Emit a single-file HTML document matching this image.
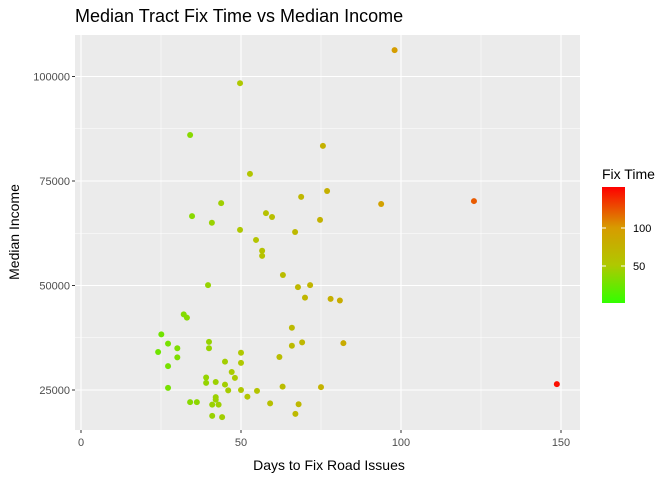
<!DOCTYPE html>
<html><head><meta charset="utf-8"><style>
body{margin:0;background:#fff;font-family:"Liberation Sans",sans-serif}
svg text{font-family:"Liberation Sans",sans-serif}
</style></head><body>
<svg id="chart" width="672" height="480">
<defs><linearGradient id="lg" x1="0" y1="1" x2="0" y2="0">
<stop offset="0" stop-color="rgb(50,255,0)"/><stop offset="0.33" stop-color="rgb(176,200,0)"/><stop offset="0.65" stop-color="rgb(215,155,0)"/><stop offset="1" stop-color="rgb(255,0,0)"/></linearGradient></defs>
<text x="75" y="22" font-size="18" fill="#000">Median Tract Fix Time vs Median Income</text>
<rect x="75" y="35" width="505" height="395" fill="#ebebeb"/>
<g id="grid"></g><g id="pts"></g><g id="axes"></g>
<text x="329" y="470" font-size="14" text-anchor="middle">Days to Fix Road Issues</text>
<text transform="translate(19,232) rotate(-90)" font-size="14" text-anchor="middle">Median Income</text>
<text x="602" y="179" font-size="14">Fix Time</text>
<rect x="602" y="187" width="23" height="116" fill="url(#lg)"/>
<g id="leg"></g>
</svg>
<script>
const xs=[32.1,33.1,25.1,27.2,24.1,30.1,30.1,27.2,27.2,40.0,40.0,50.0,50.0,45.0,47.1,48.1,39.1,39.1,42.1,45.0,46.0,50.0,55.0,52.0,34.1,36.2,42.1,42.1,41.0,43.0,41.0,44.1,59.1,62.0,65.9,65.9,69.1,70.0,78.0,80.9,82.0,63.0,75.0,68.0,67.0,49.7,98.0,34.1,52.8,75.6,76.9,68.8,43.8,93.8,122.8,34.7,40.9,57.8,59.7,74.7,66.9,49.7,54.7,56.6,56.6,63.1,71.6,67.8,39.7,148.7];
const incomes=[43.1,42.3,38.3,36.1,34.1,35.0,32.8,30.7,25.5,36.5,35.0,33.9,31.5,31.8,29.3,27.9,28.0,26.7,26.9,26.3,24.9,25.0,24.8,23.4,22.1,22.1,23.3,22.7,21.5,21.5,18.8,18.5,21.8,32.9,39.9,35.6,36.4,47.1,46.8,46.4,36.2,25.8,25.7,21.6,19.3,98.4,106.3,86.0,76.7,83.4,72.6,71.2,69.7,69.5,70.2,66.6,65.0,67.3,66.4,65.7,62.8,63.3,60.9,58.3,57.1,52.5,50.1,49.6,50.1,26.4];
const xTicks=[0,50,100,150];
const yTicks=[25000,50000,75000,100000];
const legTicks=[50,100];
const NS='http://www.w3.org/2000/svg';
const X=v=>81+v*3.2, Y=v=>390-(v-25000)*4.18/1000, L=v=>303-(v-1.3)*0.76;
function col(t){const s=[[0,[50,255,0]],[50,[176,200,0]],[100,[215,155,0]],[154,[255,0,0]]];
for(let i=1;i<s.length;i++){if(t<=s[i][0]||i==s.length-1){const a=s[i-1],b=s[i],f=Math.max(0,Math.min(1,(t-a[0])/(b[0]-a[0])));return 'rgb('+a[1].map((c,k)=>Math.round(c+(b[1][k]-c)*f)).join(',')+')';}}}
function mk(p,tag,at){const e=document.createElementNS(NS,tag);for(const k in at)e.setAttribute(k,at[k]);document.getElementById(p).appendChild(e);return e;}
[25,75,125].forEach(v=>mk('grid','line',{x1:X(v),x2:X(v),y1:35,y2:430,stroke:'#fff','stroke-width':0.5}));
[37500,62500,87500].forEach(v=>mk('grid','line',{x1:75,x2:580,y1:Y(v),y2:Y(v),stroke:'#fff','stroke-width':0.5}));
xTicks.forEach(v=>{const g=mk('grid','line',{x1:X(v),x2:X(v),y1:35,y2:430,stroke:'#fff','stroke-width':1.1});

mk('axes','line',{x1:X(v),x2:X(v),y1:430,y2:433,stroke:'#333'});
const t=mk('axes','text',{x:X(v),y:446,'font-size':11,fill:'#4d4d4d','text-anchor':'middle'});t.textContent=v;

});
yTicks.forEach(v=>{const g=mk('grid','line',{x1:75,x2:580,y1:Y(v),y2:Y(v),stroke:'#fff','stroke-width':1.1});

mk('axes','line',{x1:72,x2:75,y1:Y(v),y2:Y(v),stroke:'#333'});
const t=mk('axes','text',{x:70,y:Y(v)+4,'font-size':11,fill:'#4d4d4d','text-anchor':'end'});t.textContent=v;

});
xs.forEach((x,i)=>{const c=mk('pts','circle',{cx:X(x),cy:Y(incomes[i]*1000),r:3,fill:col(x)});

});
legTicks.forEach(v=>{mk('leg','line',{x1:602,x2:606,y1:L(v),y2:L(v),stroke:'#fff'});mk('leg','line',{x1:621,x2:625,y1:L(v),y2:L(v),stroke:'#fff'});
const t=mk('leg','text',{x:633,y:L(v)+4,'font-size':11,fill:'#000'});t.textContent=v;

});
</script>
</body></html>
